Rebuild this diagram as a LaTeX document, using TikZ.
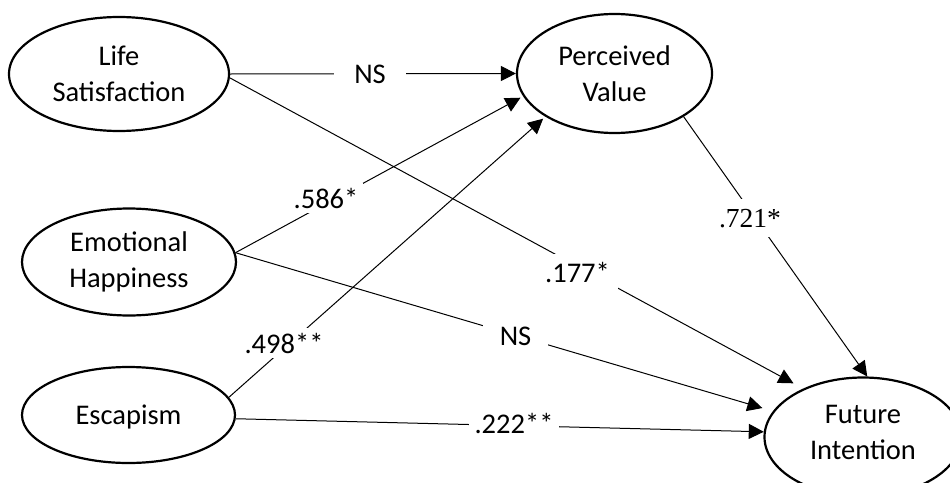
\documentclass[tikz,border=0pt]{standalone}
\usepackage{fontspec}
\setmainfont{Carlito}
\newfontfamily\timesf{Liberation Serif}
\usetikzlibrary{shapes.geometric,arrows.meta}
\begin{document}
\begin{tikzpicture}[x=1pt,y=-1pt,
  construct/.style={ellipse, draw, line width=2.2pt, inner sep=0pt, align=center,
    font=\fontsize{28.5}{36}\selectfont},
  conn/.style={line width=1pt, -{Triangle[length=15pt,width=15pt]}},
  coef/.style={fill=white, inner sep=5pt, anchor=base, font=\fontsize{28.5}{36}\selectfont}
]
\useasboundingbox (0,0) rectangle (950,482);
\clip (0,0) rectangle (950,482);

\node[construct, minimum width=220pt, minimum height=114pt] (ls) at (119,74) {Life\\Satisfaction};
\node[construct, minimum width=195pt, minimum height=119pt] (pv) at (614.5,73.5) {Perceived\\Value};
\node[construct, minimum width=214pt, minimum height=107pt] (eh) at (129,262) {Emotional\\Happiness};
\node[construct, minimum width=213pt, minimum height=96pt, text depth=0pt] (esc) at (128.5,415) {Escapism};
\node[construct, minimum width=197pt, minimum height=119pt, text depth=10pt] (fi) at (863,437) {Future\\Intention};

\draw[conn] (ls.east) -- (pv.west);
\draw[conn, shorten >=11pt] (ls.-2) -- (fi.141);
\draw[conn, shorten >=3pt] (eh.5) -- (pv.194);
\draw[conn, shorten >=11pt] (eh.5) -- (fi.164);
\draw[conn, shorten >=3pt] (esc.10) -- (pv.212);
\draw[conn] (esc.-2) -- (fi.177);
\draw[conn] (pv.-32) -- (fi.86);

\node[coef, inner xsep=20pt] (l1) at (370,83) {NS};
\node[coef] (l2) at (326,208) {.586*};
\node[coef] (l3) at (284,353) {.498**};
\node[coef, inner sep=8pt] (l4) at (577.5,282) {.177*};
\node[coef, inner xsep=17pt, inner ysep=3pt] (l5) at (515.5,345) {NS};
\node[coef, inner xsep=6pt] (l6) at (514,433) {.222**};
\node[coef, font=\timesf\fontsize{27.5}{33}\selectfont, inner ysep=10pt] (l7) at (750,227) {.721*};
\end{tikzpicture}
\end{document}
